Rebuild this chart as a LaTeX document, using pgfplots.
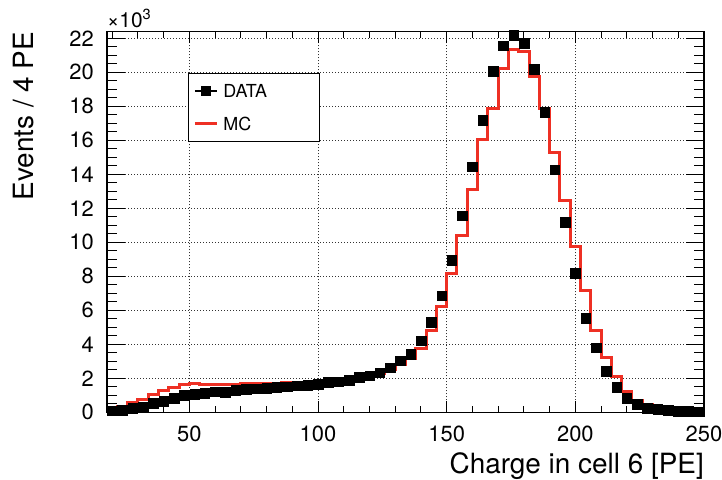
\documentclass[border=0pt]{standalone}
\usepackage{fontspec}
\setmainfont{TeX Gyre Heros}
\usepackage{pgfplots}
\pgfplotsset{compat=1.18}
\usepackage{pgfplotstable}
\definecolor{mcred}{RGB}{238,48,36}

\pgfplotstableread{
x y
20 0.10
24 0.13
28 0.23
32 0.33
36 0.53
40 0.66
44 0.82
48 1.02
52 1.08
56 1.12
60 1.21
64 1.18
68 1.31
72 1.35
76 1.39
80 1.41
84 1.47
88 1.51
92 1.57
96 1.61
100 1.66
104 1.76
108 1.80
112 1.90
116 2.06
120 2.15
124 2.33
128 2.62
132 3.04
136 3.42
140 4.21
144 5.29
148 6.86
152 8.95
156 11.57
160 14.45
164 17.19
168 20.08
172 21.56
176 22.17
180 21.70
184 20.19
188 17.65
192 14.27
196 11.20
200 8.18
204 5.53
208 3.81
212 2.43
216 1.47
220 0.82
224 0.49
228 0.24
232 0.18
236 0.12
240 0.08
244 0.08
248 0.05
}\datatab

\pgfplotstableread{
x y
18 0.28
22 0.32
26 0.57
30 0.76
34 1.02
38 1.31
42 1.45
46 1.65
50 1.70
54 1.62
58 1.62
62 1.65
66 1.62
70 1.67
74 1.70
78 1.70
82 1.72
86 1.75
90 1.74
94 1.76
98 1.78
102 1.82
106 1.86
110 1.95
114 2.05
118 2.15
122 2.30
126 2.50
130 2.80
134 3.18
138 3.76
142 4.84
146 6.21
150 8.18
154 10.43
158 13.08
162 16.05
166 17.88
170 20.25
174 21.33
178 21.20
182 19.76
186 17.88
190 15.27
194 12.47
198 9.74
202 7.15
206 4.84
210 3.22
214 2.09
218 1.23
222 0.72
226 0.43
230 0.24
234 0.12
238 0.08
242 0.06
246 0.05
250 0.05
}\mctab

\begin{document}
\begin{tikzpicture}
\path[use as bounding box] (0,0) rectangle (722bp,480bp);
\begin{axis}[
  at={(107bp,67.7bp)}, anchor=south west,
  width=597bp, height=380.6bp, scale only axis,
  xmin=18, xmax=250, ymin=0, ymax=22.39,
  clip=false,
  axis line style={line width=1.5bp, black},
  tick align=inside, xtick pos=both, ytick pos=both,
  xtick={50,100,150,200,250},
  minor xtick={20,30,...,250},
  ytick={0,2,...,22},
  minor ytick={0,0.5,...,22},
  xtick style={black, line width=1bp, /pgfplots/major tick length=11bp, /pgfplots/minor tick length=6bp},
  ytick style={black, line width=1bp, /pgfplots/major tick length=18bp, /pgfplots/minor tick length=10bp},
  grid=major,
  major grid style={black!80, line width=0.6bp, dash pattern=on 1bp off 2bp},
  /pgf/number format/assume math mode=true,
  ticklabel style={font=\fontsize{22}{24}\selectfont},
  xticklabel style={inner sep=0pt, yshift=-13bp},
  yticklabel style={inner sep=0pt, xshift=-13bp},
  xlabel={Charge in cell 6 [PE]},
  ylabel={Events / 4 PE},
  label style={font=\fontsize{28}{30}\selectfont, inner sep=0pt},
  xlabel style={at={([yshift=-60.7bp]rel axis cs:1,0)}, anchor=base east},
  ylabel style={at={([xshift=-73.7bp]rel axis cs:0,1)}, anchor=base east},
  reverse legend,
  legend style={at={(0.1352,0.8923)}, anchor=north west, draw=black, line width=1.5bp,
    inner xsep=5bp, inner ysep=11bp, column sep=5bp, row sep=20bp,
    font=\fontsize{18}{20}\selectfont,
    nodes={inner sep=0pt, text height=13bp, text depth=0bp}},
]
\addplot[const plot, mcred, line width=3bp,
  legend image code/.code={\draw[mcred, line width=3bp] (0bp,0bp) -- (22bp,0bp);}]
  table[x=x, y=y]{\mctab};
\addlegendentry{\makebox[91bp][l]{MC}}
\addplot[only marks, mark=square*, mark size=4.8bp, black, mark options={line width=0.3bp},
  legend image code/.code={\draw[black, line width=2bp] (0bp,0bp) -- (22bp,0bp);
    \fill[black] (6.5bp,-4.5bp) rectangle (15.5bp,4.5bp);}]
  table[x=x, y=y]{\datatab};
\addlegendentry{\makebox[91bp][l]{DATA}}
\node[anchor=base west, inner sep=0pt, font=\fontsize{21}{22}\selectfont]
  at ([yshift=4.5bp]rel axis cs:0,1) {×10\textsuperscript{3}};
\end{axis}
\end{tikzpicture}
\end{document}
